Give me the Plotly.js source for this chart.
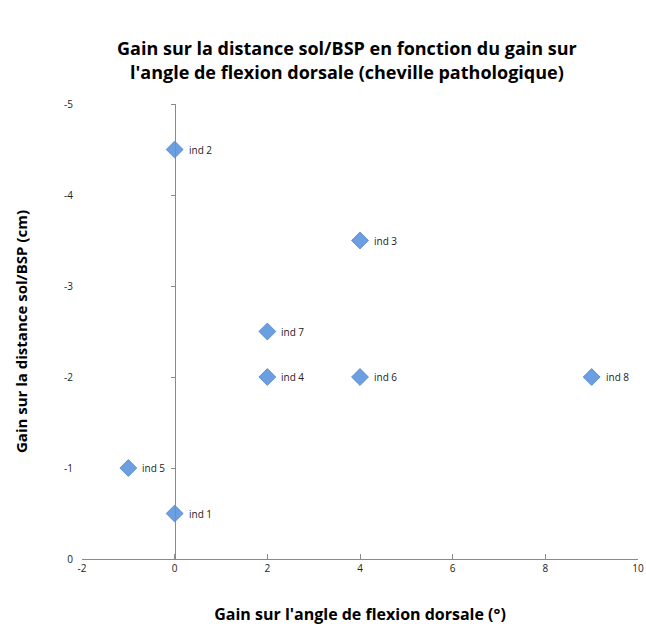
<!DOCTYPE html>
<html>
<head>
<meta charset="utf-8">
<script src="https://cdn.plot.ly/plotly-3.0.1.min.js"></script>
<style>html,body{margin:0;padding:0;background:#fff;}#chart{width:646px;height:628px;}</style>
</head>
<body>
<div id="chart"></div>
<script>
const labels = ["ind 1","ind 2","ind 3","ind 4","ind 5","ind 6","ind 7","ind 8"];
const gainAngle = [0, 0, 4, 2, -1, 4, 2, 9];
const gainDistance = [-0.5, -4.5, -3.5, -2, -1, -2, -2.5, -2];
const xTicks = [-2, 0, 2, 4, 6, 8, 10];
const yTicks = [0, -1, -2, -3, -4, -5];

const font = "'Open Sans', 'Liberation Sans', sans-serif";
const xRange = [-2, 10];
const yRange = [0, -5];

const trace = {
  type: 'scatter',
  mode: 'markers',
  x: gainAngle,
  y: gainDistance,
  marker: {
    symbol: 'diamond',
    size: 13,
    color: '#6c9fe2',
    line: {color: '#5284c9', width: 0.8}
  },
  hoverinfo: 'x+y'
};

const annotations = labels.map((t, i) => ({
  x: gainAngle[i], y: gainDistance[i], xref: 'x', yref: 'y',
  text: t, showarrow: false, xanchor: 'left', yanchor: 'middle',
  xshift: 12, font: {family: font, size: 10, color: '#222'}
}));

const layout = {
  width: 646, height: 628,
  margin: {l: 82, r: 8, t: 104, b: 69},
  paper_bgcolor: '#fff', plot_bgcolor: '#fff',
  showlegend: false,
  title: {
    text: "Gain sur la distance sol/BSP en fonction du gain sur<br>l'angle de flexion dorsale (cheville pathologique)",
    x: 0.537, xanchor: 'center', y: 0.912, yanchor: 'middle',
    font: {family: font, size: 18, color: '#000', weight: 'bold'}
  },
  xaxis: {
    range: xRange, tickvals: xTicks, ticktext: xTicks.map(String),
    showgrid: false, zeroline: false,
    showline: true, linecolor: '#8a8a8a', linewidth: 1,
    ticks: 'inside', ticklen: 5, tickcolor: '#8a8a8a',
    tickfont: {family: font, size: 10, color: '#222'},
    title: {text: "Gain sur l'angle de flexion dorsale (°)", standoff: 34,
      font: {family: font, size: 16, color: '#000', weight: 'bold'}},
    automargin: false,
    fixedrange: true
  },
  yaxis: {
    range: yRange, tickvals: yTicks, ticktext: yTicks.map(String),
    showgrid: false, zeroline: false, showline: false, ticks: '',
    ticklabelstandoff: 8,
    tickfont: {family: font, size: 10, color: '#222'},
    title: {text: "Gain sur la distance sol/BSP (cm)", standoff: 32,
      font: {family: font, size: 15, color: '#000', weight: 'bold'}},
    automargin: false,
    fixedrange: true
  },
  yaxis2: {
    overlaying: 'y', anchor: 'free', position: (0 - xRange[0]) / (xRange[1] - xRange[0]),
    side: 'left',
    range: yRange, tickvals: yTicks, showticklabels: false,
    showgrid: false, zeroline: false,
    showline: true, linecolor: '#8a8a8a', linewidth: 1,
    ticks: 'outside', ticklen: 4, tickcolor: '#8a8a8a',
    fixedrange: true
  },
  annotations: annotations
};

const axisTrace = {type: 'scatter', x: [], y: [], yaxis: 'y2', hoverinfo: 'skip', showlegend: false};

Plotly.newPlot('chart', [trace, axisTrace], layout, {displayModeBar: false, staticPlot: true});
</script>
</body>
</html>
